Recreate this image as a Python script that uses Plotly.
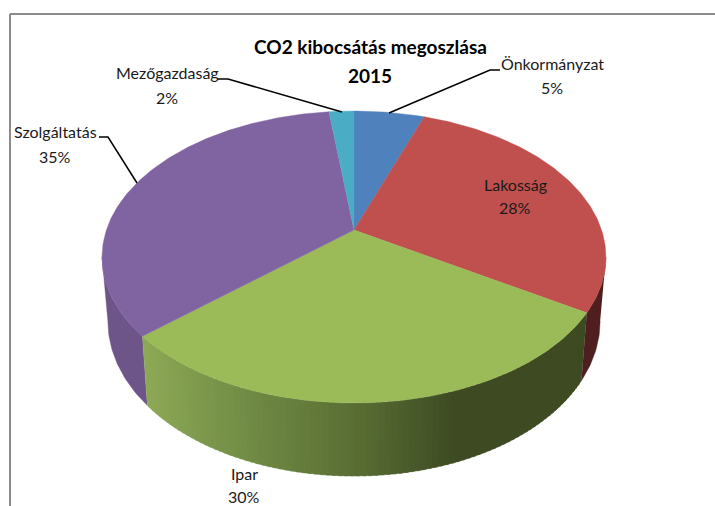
import numpy as np
import plotly.graph_objects as go

# Data
categories = ["Önkormányzat", "Lakosság", "Ipar", "Szolgáltatás", "Mezőgazdaság"]
shares = [5.4, 28.49, 29.6, 34.6, 1.91]
title_lines = ["CO2 kibocsátás megoszlása", "2015"]

top_colors = ["#4f81bd", "#c0504d", "#9bbb59", "#8064a2", "#4bacc6"]
side_colors = ["#3a5f8c", "#4f1e1e", None, "#6e5589", "#35788a"]

# Projection of the pie onto the page (pixel space)
CX, CY, RX, RY, K = 354.0, 230.0, 247.6, 141.0, 0.185
DROP, DROP_FRONT, LOWER_SCALE = 62.0, 11.0, 0.977
FONT = "Lato, Liberation Sans, sans-serif"


def top_rim(a):
    u, v = np.sin(a), np.cos(a)
    w = 1 + K * v
    return CX + RX * u / w, CY - RY * v / w


def low_rim(a):
    x, y = top_rim(a)
    return CX + LOWER_SCALE * (x - CX), y + DROP - DROP_FRONT * np.cos(a)


def poly(xs, ys, color):
    return go.Scatter(x=xs, y=ys, mode="lines", fill="toself", fillcolor=color,
                      line=dict(color=color, width=0.4), hoverinfo="skip", showlegend=False)


def side(a0, a1, color):
    a = np.linspace(a0, a1, max(int(abs(a1 - a0) * 80), 6))
    xt, yt = top_rim(a)
    xb, yb = low_rim(a[::-1])
    return poly(np.r_[xt, xb], np.r_[yt, yb], color)


green_stops_x = [148, 250, 350, 460, 600]
green_stops_r = [0x8c, 0x70, 0x5b, 0x3d, 0x3d]
green_stops_g = [0xa8, 0x8b, 0x70, 0x4a, 0x4a]
green_stops_b = [0x55, 0x45, 0x35, 0x22, 0x22]


def green_at(x):
    return "rgb(%d,%d,%d)" % tuple(np.interp(x, green_stops_x, c)
                                   for c in (green_stops_r, green_stops_g, green_stops_b))


fractions = np.cumsum([0] + shares) / sum(shares)
edges = 2 * np.pi * fractions
wide_r = np.arccos(-K)
wide_l = 2 * np.pi - wide_r

fig = go.Figure()

# Side walls
fig.add_trace(side(wide_r, edges[2], side_colors[1]))
fig.add_trace(side(edges[3], wide_l, side_colors[3]))
strips = np.linspace(edges[2], edges[3], 91)
for a0, a1 in zip(strips[:-1], strips[1:]):
    xm = top_rim((a0 + a1) / 2)[0]
    fig.add_trace(side(a0, a1 + 0.012 if a1 + 0.012 < edges[3] else a1, green_at(xm)))

# Top face
for i, col in enumerate(top_colors):
    a = np.linspace(edges[i], edges[i + 1], max(int((edges[i + 1] - edges[i]) * 80), 6))
    xt, yt = top_rim(a)
    fig.add_trace(poly(np.r_[CX, xt, CX], np.r_[CY, yt, CY], col))

# Leader lines
leaders = [
    ([500, 490, 389], [70, 70, 113]),
    ([217, 228, 342], [79, 79, 112]),
    ([99, 108, 137], [137, 137, 183]),
]
for lx, ly in leaders:
    fig.add_trace(go.Scatter(x=lx, y=ly, mode="lines", line=dict(color="black", width=1.5),
                             hoverinfo="skip", showlegend=False))

# Labels: category and rounded share
label_pos = [(552, 63.5, 87.5), (515, 184.5, 207.5), (244, 473, 496), (55, 131.5, 156.5), (167, 72, 97.5)]
annotations = []
for name, val, (x, y1, y2) in zip(categories, shares, label_pos):
    annotations.append(dict(x=x, y=y1, text=name, showarrow=False,
                            font=dict(family=FONT, size=16, color="#1a1a1a")))
    annotations.append(dict(x=x, y=y2, text=f"{round(val)}%", showarrow=False,
                            font=dict(family=FONT, size=16, color="#1a1a1a")))
for line, y in zip(title_lines, [46, 75]):
    annotations.append(dict(x=370, y=y, text=f"<b>{line}</b>", showarrow=False,
                            font=dict(family=FONT, size=19, color="black")))

# Chart frame
shapes = [
    dict(type="line", x0=10, x1=10, y0=14, y1=506, line=dict(color="#8c8c8c", width=2)),
    dict(type="line", x0=10, x1=715, y0=14, y1=14, line=dict(color="#8c8c8c", width=2)),
]

fig.update_layout(
    width=715, height=506, autosize=False,
    margin=dict(l=0, r=0, t=0, b=0),
    paper_bgcolor="white", plot_bgcolor="white",
    xaxis=dict(range=[0, 715], visible=False, fixedrange=True),
    yaxis=dict(range=[506, 0], visible=False, fixedrange=True),
    annotations=annotations, shapes=shapes, showlegend=False,
)
fig.write_html("out.html", config={"displayModeBar": False},
               post_script="document.body.style.margin='0';document.body.style.overflow='hidden';")
